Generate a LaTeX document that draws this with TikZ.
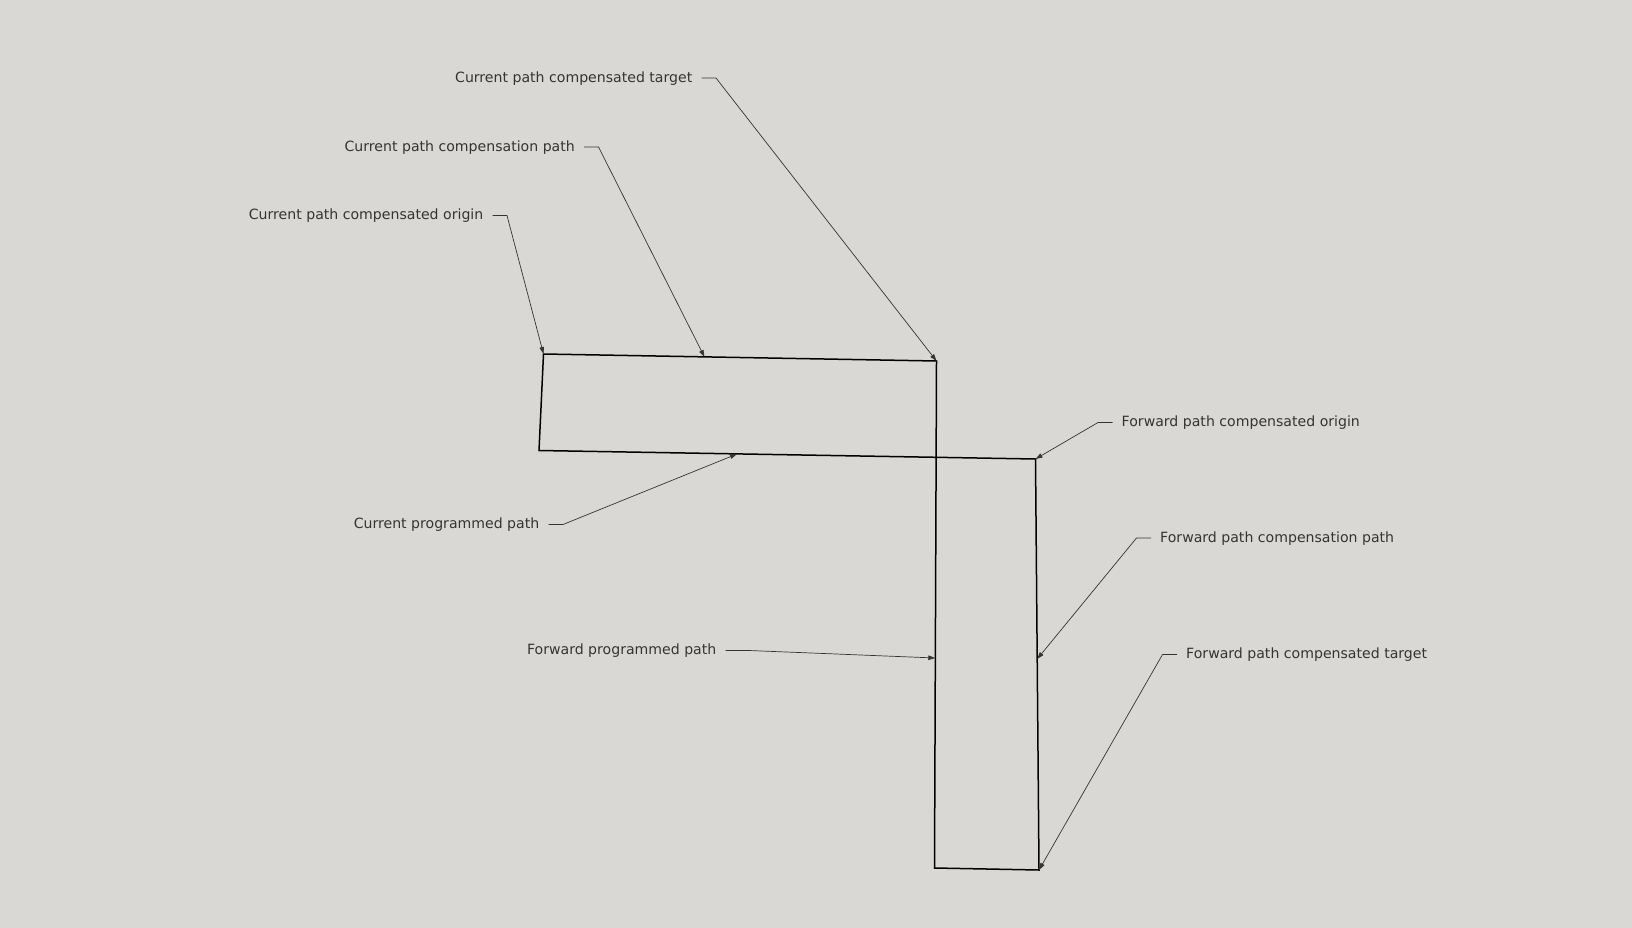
\documentclass[tikz,border=0pt]{standalone}
\usepackage{fontspec}
\setmainfont{DejaVu Sans}
\usepackage{tikz}
\usetikzlibrary{arrows.meta}

\definecolor{sketchbg}{RGB}{217,216,212}
\definecolor{labelgray}{RGB}{52,52,52}

\tikzset{
    lbl/.style={font=\fontsize{14.1}{16}\selectfont, text=labelgray, inner xsep=9pt, inner ysep=2pt,
        text height=1.05em, text depth=0.23em},
    leader/.style={draw=labelgray, line width=0.7pt, -{Triangle[length=7pt,width=4.5pt]}},
    outline/.style={draw=black, line width=1.5pt, line join=miter}
}

\begin{document}
\begin{tikzpicture}[x=1pt, y=-1pt]

    \fill[sketchbg] (0, 0) rectangle (1632, 928);
    \useasboundingbox (0, 0) rectangle (1632, 928);

    % corners of the two paths
    \coordinate (p1) at (543.5, 354);
    \coordinate (p2) at (936.5, 361);
    \coordinate (p3) at (934.5, 868);
    \coordinate (p4) at (1039, 870);
    \coordinate (p5) at (1035.5, 459);
    \coordinate (p6) at (539, 450.5);

    \draw[outline] (p1) -- (p2) -- (p3) -- (p4) -- (p5) -- (p6) -- cycle;

    % points on the edges
    \coordinate (e1) at (704.5, 357);
    \coordinate (e2) at (737, 454);
    \coordinate (e3) at (935.3, 658);
    \coordinate (e4) at (1037.2, 659);

    \node[lbl, anchor=east] (cto) at (701.5, 78) {Current path compensated target};
    \node[lbl, anchor=east] (ccp) at (584, 147) {Current path compensation path};
    \node[lbl, anchor=east] (cco) at (492.5, 215.5) {Current path compensated origin};
    \node[lbl, anchor=east] (cpp) at (548.5, 524.5) {Current programmed path};
    \node[lbl, anchor=east] (fpp) at (725.5, 650.5) {Forward programmed path};

    \node[lbl, anchor=west] (fco) at (1112.5, 422.5) {Forward path compensated origin};
    \node[lbl, anchor=west] (fcp) at (1151, 538) {Forward path compensation path};
    \node[lbl, anchor=west] (fct) at (1177, 654.5) {Forward path compensated target};

    \draw[leader] (cto.east) -- ++(14.5, 0) -- (p2);
    \draw[leader] (ccp.east) -- ++(14.5, 0) -- (e1);
    \draw[leader] (cco.east) -- ++(14.5, 0) -- (p1);
    \draw[leader] (cpp.east) -- ++(14.5, 0) -- (e2);
    \draw[leader] (fpp.east) -- ++(23.5, 0) -- (e3);

    \draw[leader] (fco.west) -- ++(-14.5, 0) -- (p5);
    \draw[leader] (fcp.west) -- ++(-14.5, 0) -- (e4);
    \draw[leader] (fct.west) -- ++(-14.5, 0) -- (p4);

\end{tikzpicture}
\end{document}
